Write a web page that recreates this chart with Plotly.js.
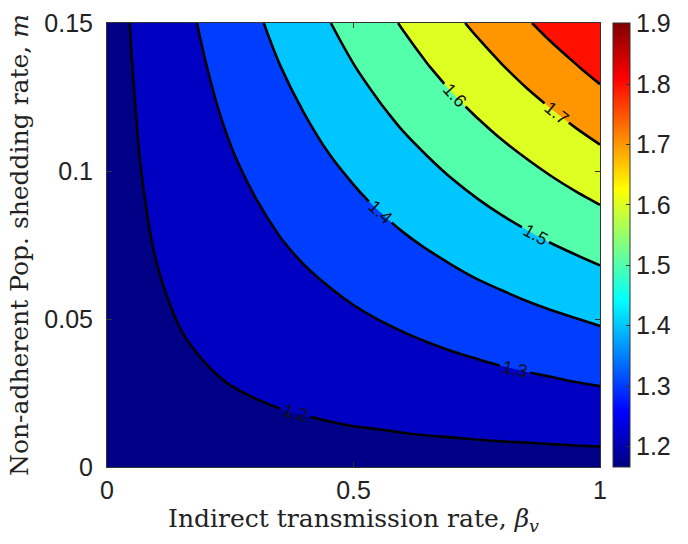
<!DOCTYPE html>
<html>
<head>
<meta charset="utf-8">
<script src="https://cdn.plot.ly/plotly-3.0.1.min.js"></script>
<style>html,body{margin:0;padding:0;background:#fff;}#chart{width:688px;height:544px;}</style>
</head>
<body>
<div id="chart"></div>
<script>
// Grid of the chart
var betaV = [0,0.05,0.1,0.15,0.2,0.25,0.3,0.35,0.4,0.45,0.5,0.55,0.6,0.65,0.7,0.75,0.8,0.85,0.9,0.95,1];
var mRate = [0,0.015,0.03,0.045,0.06,0.075,0.09,0.105,0.12,0.135,0.15];
// R value at each (m row, betaV column)
var rRow0  = [1.166,1.166,1.166,1.166,1.166,1.166,1.166,1.166,1.166,1.166,1.166,1.166,1.166,1.166,1.166,1.166,1.166,1.166,1.166,1.166,1.166];
var rRow1  = [1.166,1.170,1.173,1.177,1.181,1.184,1.188,1.192,1.195,1.199,1.203,1.206,1.210,1.214,1.217,1.221,1.225,1.228,1.232,1.236,1.240];
var rRow2  = [1.166,1.173,1.181,1.188,1.195,1.203,1.210,1.217,1.225,1.232,1.240,1.247,1.254,1.262,1.269,1.276,1.284,1.291,1.298,1.306,1.313];
var rRow3  = [1.166,1.177,1.188,1.199,1.210,1.221,1.232,1.243,1.254,1.265,1.276,1.287,1.298,1.309,1.320,1.331,1.342,1.353,1.364,1.375,1.387];
var rRow4  = [1.166,1.181,1.195,1.210,1.225,1.240,1.254,1.269,1.284,1.298,1.313,1.328,1.342,1.357,1.372,1.387,1.401,1.416,1.431,1.445,1.460];
var rRow5  = [1.166,1.184,1.203,1.221,1.240,1.258,1.276,1.295,1.313,1.331,1.350,1.368,1.387,1.405,1.423,1.442,1.460,1.478,1.497,1.515,1.534];
var rRow6  = [1.166,1.188,1.210,1.232,1.254,1.276,1.298,1.320,1.342,1.364,1.387,1.409,1.431,1.453,1.475,1.497,1.519,1.541,1.563,1.585,1.607];
var rRow7  = [1.166,1.192,1.217,1.243,1.269,1.295,1.320,1.346,1.372,1.398,1.423,1.449,1.475,1.500,1.526,1.552,1.578,1.603,1.629,1.655,1.681];
var rRow8  = [1.166,1.195,1.225,1.254,1.284,1.313,1.342,1.372,1.401,1.431,1.460,1.489,1.519,1.548,1.578,1.607,1.636,1.666,1.695,1.725,1.754];
var rRow9  = [1.166,1.199,1.232,1.265,1.298,1.331,1.364,1.398,1.431,1.464,1.497,1.530,1.563,1.596,1.629,1.662,1.695,1.728,1.761,1.794,1.828];
var rRow10 = [1.166,1.203,1.240,1.276,1.313,1.350,1.387,1.423,1.460,1.497,1.534,1.570,1.607,1.644,1.681,1.717,1.754,1.791,1.828,1.864,1.901];
var rGrid = [rRow0,rRow1,rRow2,rRow3,rRow4,rRow5,rRow6,rRow7,rRow8,rRow9,rRow10];

var levelStart = 1.2, levelEnd = 1.8, levelStep = 0.1;
var colorbarTicks = [1.2,1.3,1.4,1.5,1.6,1.7,1.8,1.9];
var xTicks = [0,0.5,1], xTickText = ['0','0.5','1'];
var yTicks = [0,0.05,0.1,0.15], yTickText = ['0','0.05','0.1','0.15'];

// band fill colours (jet at the lower level of each band)
var bandColors = ['rgb(0,0,135)','rgb(0,0,195)','rgb(0,62,255)','rgb(0,198,255)','rgb(84,255,172)','rgb(222,255,34)','rgb(255,150,0)','rgb(255,16,0)'];
var bandScale = bandColors.map(function(c,i){return [i/(bandColors.length-1), c];});
var jet = [[0,'rgb(0,0,128)'],[0.125,'rgb(0,0,255)'],[0.375,'rgb(0,255,255)'],[0.625,'rgb(255,255,0)'],[0.875,'rgb(255,0,0)'],[1,'rgb(128,0,0)']];

var zlo = Math.min.apply(null, rGrid.map(function(r){return Math.min.apply(null,r);}));
var zhi = Math.max.apply(null, rGrid.map(function(r){return Math.max.apply(null,r);}));

var tickFont = {family:'Liberation Sans, Arial, sans-serif', size:25, color:'#222'};
var titleFont = {family:'DejaVu Serif, serif', size:25, color:'#222'};

var traces = [
  {
    type:'heatmap', x:betaV, y:mRate, z:rGrid,
    colorscale:jet, zmin:zlo, zmax:zhi, hoverinfo:'skip',
    showscale:true,
    colorbar:{
      x:1.026, xanchor:'left', xpad:0, y:0.5, yanchor:'middle', ypad:0,
      len:1, lenmode:'fraction', thickness:17,
      outlinewidth:1, outlinecolor:'#333',
      tickmode:'array', tickvals:colorbarTicks, ticktext:colorbarTicks.map(function(v){return v.toFixed(1);}),
      ticks:'inside', ticklen:4, tickcolor:'#333', tickfont:tickFont
    }
  },
  {
    type:'contour', x:betaV, y:mRate, z:rGrid,
    autocontour:false,
    contours:{start:levelStart, end:levelEnd, size:levelStep, coloring:'fill',
      showlabels:true, labelfont:{family:'Liberation Sans, Arial, sans-serif', size:18, color:'#111'}},
    colorscale:bandScale, autocolorscale:false, showscale:false,
    line:{color:'#000', width:2.6, smoothing:1},
    hoverinfo:'skip'
  }
];

var layout = {
  width:688, height:544,
  margin:{l:107, r:88, t:23, b:77, autoexpand:false},
  paper_bgcolor:'#fff', plot_bgcolor:'#fff',
  showlegend:false,
  xaxis:{
    range:[0,1], tickmode:'array', tickvals:xTicks, ticktext:xTickText,
    ticks:'inside', ticklen:5, tickcolor:'#333',
    showline:true, mirror:'ticks', linecolor:'#333', linewidth:1,
    showgrid:false, zeroline:false, tickfont:tickFont, ticklabelstandoff:1,
    title:{text:'Indirect transmission rate, <i>β</i><sub><i>v</i></sub>', font:titleFont, standoff:4}
  },
  yaxis:{
    range:[0,0.15], tickmode:'array', tickvals:yTicks, ticktext:yTickText,
    ticks:'inside', ticklen:5, tickcolor:'#333',
    showline:true, mirror:'ticks', linecolor:'#333', linewidth:1,
    showgrid:false, zeroline:false, tickfont:tickFont, ticklabelstandoff:8,
    title:{text:'Non-adherent Pop. shedding rate, <i>m</i>', font:titleFont, standoff:8}
  }
};

Plotly.newPlot('chart', traces, layout, {staticPlot:true, displayModeBar:false});
</script>
</body>
</html>
